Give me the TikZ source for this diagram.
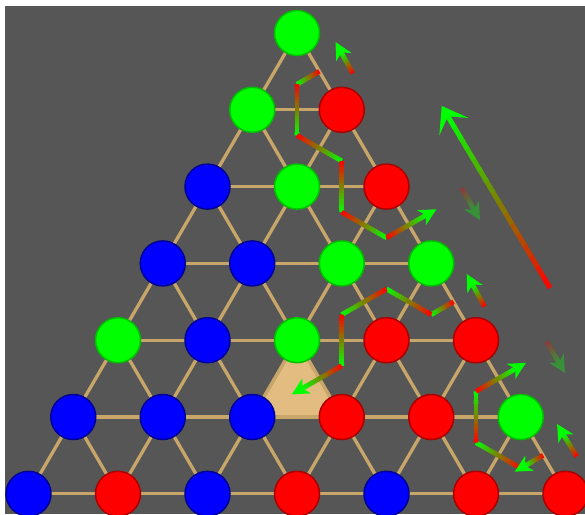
\documentclass[tikz,border=0pt]{standalone}
\usetikzlibrary{calc,arrows.meta}
\definecolor{bgc}{RGB}{86,86,86}
\definecolor{edgec}{RGB}{200,166,106}
\definecolor{tanfill}{RGB}{226,188,128}
\definecolor{gfill}{RGB}{0,255,0}
\definecolor{gline}{RGB}{0,190,0}
\definecolor{rline}{RGB}{170,0,0}
\definecolor{bline}{RGB}{0,0,150}
\tikzset{
  edgeline/.style={draw=edgec, line width=3.3pt},
  ball/.style={circle, minimum size=45pt, inner sep=0pt, line width=1.5pt},
  gball/.style={ball, fill=gfill, draw=gline},
  rball/.style={ball, fill=red, draw=rline},
  bball/.style={ball, fill=blue, draw=bline},
  seg/.style={line width=4.8pt},
  bigseg/.style={line width=5pt},
  smallhead/.style={-{Stealth[length=17pt,width=17pt,inset=5pt]}},
  bighead/.style={-{Stealth[length=24pt,width=34pt,inset=12pt]}},
}
% gradient line: #1 style, #2 from, #3 to, #4 colour suffix
\newcommand{\gradline}[4]{%
  \foreach \gi in {0,...,15}{%
    \pgfmathsetmacro\gta{\gi/16}%
    \pgfmathsetmacro\gtb{min(1,(\gi+1)/16+0.01)}%
    \pgfmathtruncatemacro\gpc{round((\gi+0.5)/16*100)}%
    \draw[#1, color=green!\gpc!red#4] ($(#2)!\gta!(#3)$) -- ($(#2)!\gtb!(#3)$);%
  }%
}
% gradient arrow: #1 style, #2 from, #3 tip, #4 cut, #5 head style, #6 colour suffix
\newcommand{\gradarrow}[6]{%
  \coordinate (gacut) at ($(#3)!#4!(#2)$);%
  \gradline{#1}{#2}{gacut}{#6}%
  \draw[#1, color=green#6, #5] (gacut) -- (#3);%
}
\begin{document}
\begin{tikzpicture}[x=1pt,y=-1pt]
\useasboundingbox (0,0) rectangle (585,514);
\fill[white] (0,0) rectangle (585,514);
\fill[bgc] (5,5.5) rectangle (585,514);
% lattice points
\foreach \r in {0,...,6}{\foreach \k in {0,...,\r}{%
  \coordinate (p\r\k) at ({297+(\k-\r/2)*89.5},{33+\r*76.8});}}
% tan cell
\filldraw[fill=tanfill, draw=edgec, line width=3pt, line join=round] (p42) -- (p52) -- (p53) -- cycle;
% edges
\foreach \r in {0,...,5}{\foreach \k in {0,...,\r}{%
  \pgfmathtruncatemacro\rnext{\r+1}\pgfmathtruncatemacro\knext{\k+1}%
  \draw[edgeline] (p\r\k) -- (p\rnext\k);
  \draw[edgeline] (p\r\k) -- (p\rnext\knext);}}
\foreach \r in {1,...,6}{\pgfmathtruncatemacro\rprev{\r-1}\foreach \k in {0,...,\rprev}{%
  \pgfmathtruncatemacro\knext{\k+1}%
  \draw[edgeline] (p\r\k) -- (p\r\knext);}}
% balls
\foreach \r/\k/\c in {0/0/gball,
  1/0/gball,1/1/rball,
  2/0/bball,2/1/gball,2/2/rball,
  3/0/bball,3/1/bball,3/2/gball,3/3/gball,
  4/0/gball,4/1/bball,4/2/gball,4/3/rball,4/4/rball,
  5/0/bball,5/1/bball,5/2/bball,5/3/rball,5/4/rball,5/5/gball,
  6/0/bball,6/1/rball,6/2/bball,6/3/rball,6/4/bball,6/5/rball,6/6/rball}
  {\node[\c] (n\r\k) at (p\r\k) {};}
% path 1
\coordinate (a0) at ($(p00)!0.5!(p11)$);
\coordinate (a1) at (barycentric cs:p00=1,p10=1,p11=1);
\coordinate (a2) at (barycentric cs:p10=1,p11=1,p21=1);
\coordinate (a3) at (barycentric cs:p11=1,p21=1,p22=1);
\coordinate (a4) at (barycentric cs:p21=1,p22=1,p32=1);
\coordinate (a5) at (barycentric cs:p22=1,p32=1,p33=1);
\coordinate (a6) at ($(a4)+(89.5,0)$);
\coordinate (t1) at ($(a6)!-6pt!(a5)$);
\gradline{seg}{a0}{a1}{}
\gradline{seg}{a1}{a2}{}
\gradline{seg}{a2}{a3}{}
\gradline{seg}{a3}{a4}{}
\gradline{seg}{a4}{a5}{}
\gradarrow{seg}{a5}{t1}{13pt}{smallhead}{}
% path 2
\coordinate (b0) at ($(p33)!0.5!(p44)$);
\coordinate (b1) at (barycentric cs:p33=1,p43=1,p44=1);
\coordinate (b2) at (barycentric cs:p32=1,p33=1,p43=1);
\coordinate (b3) at (barycentric cs:p32=1,p42=1,p43=1);
\coordinate (b4) at (barycentric cs:p42=1,p43=1,p53=1);
\coordinate (b5) at (barycentric cs:p42=1,p52=1,p53=1);
\coordinate (t2) at ($(b5)!-6pt!(b4)$);
\gradline{seg}{b0}{b1}{}
\gradline{seg}{b1}{b2}{}
\gradline{seg}{b2}{b3}{}
\gradline{seg}{b3}{b4}{}
\gradarrow{seg}{b4}{t2}{13pt}{smallhead}{}
% path 3
\coordinate (c0) at ($(p55)!0.5!(p66)$);
\coordinate (c1) at (barycentric cs:p55=1,p65=1,p66=1);
\coordinate (c2) at (barycentric cs:p54=1,p55=1,p65=1);
\coordinate (c3) at (barycentric cs:p44=1,p54=1,p55=1);
\coordinate (c4) at ($(b4)+(179,0)$);
\coordinate (t3) at ($(c1)!-7pt!(c0)$);
\coordinate (t4) at ($(c4)!-6pt!(c3)$);
\gradline{seg}{c1}{c2}{}
\gradline{seg}{c2}{c3}{}
\gradarrow{seg}{c3}{t4}{13pt}{smallhead}{}
\gradarrow{seg}{c0}{t3}{13pt}{smallhead}{}
% free arrows
\coordinate (f1a) at (352.7,73.3); \coordinate (f1b) at (335.5,42);
\coordinate (f2a) at (484.5,306.5); \coordinate (f2b) at (466.7,274);
\coordinate (f3a) at (576.7,456.5); \coordinate (f3b) at (557,424);
\gradarrow{seg}{f1a}{f1b}{13pt}{smallhead}{}
\gradarrow{seg}{f2a}{f2b}{13pt}{smallhead}{}
\gradarrow{seg}{f3a}{f3b}{13pt}{smallhead}{}
% faded arrows
\coordinate (d1a) at (461.7,188.3); \coordinate (d1b) at (480,220);
\coordinate (d2a) at (546.7,341.7); \coordinate (d2b) at (565,373);
\gradarrow{seg}{d1a}{d1b}{13pt}{smallhead}{!35!bgc}
\gradarrow{seg}{d2a}{d2b}{13pt}{smallhead}{!35!bgc}
% big arrow
\coordinate (ga) at (550,288); \coordinate (gb) at (441.7,106);
\gradarrow{bigseg}{ga}{gb}{13pt}{bighead}{}
\end{tikzpicture}
\end{document}
